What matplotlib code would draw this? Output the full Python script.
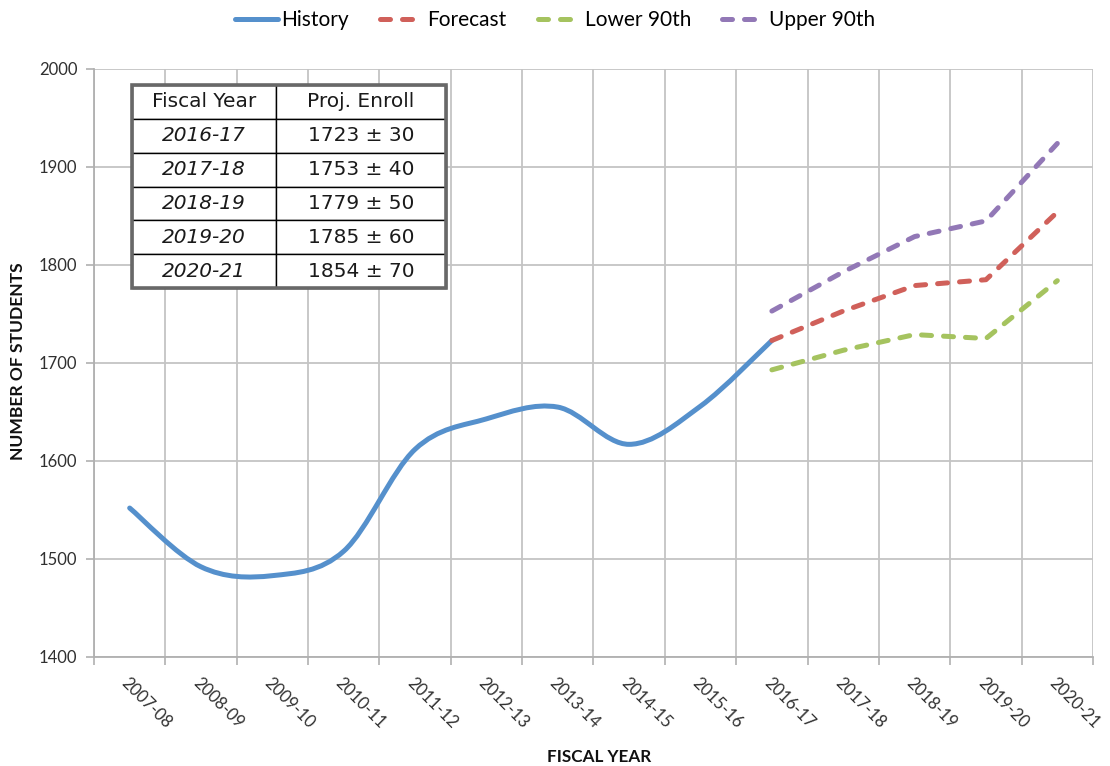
import matplotlib
matplotlib.use("Agg")
import matplotlib.pyplot as plt
from matplotlib.path import Path
from matplotlib.patches import PathPatch, Rectangle
from matplotlib.lines import Line2D
import numpy as np

# Datos
anios = ["2007-08", "2008-09", "2009-10", "2010-11", "2011-12", "2012-13", "2013-14",
         "2014-15", "2015-16", "2016-17", "2017-18", "2018-19", "2019-20", "2020-21"]
historia = [1552, 1492, 1483, 1508, 1612, 1643, 1655, 1617, 1656, 1723]
pronostico = [1723, 1753, 1779, 1785, 1854]
margen = [30, 40, 50, 60, 70]
inferior_90 = [1693, 1713, 1729, 1725, 1784]
superior_90 = [1753, 1793, 1829, 1845, 1924]

AZUL = "#5590cc"
ROJO = "#d0605a"
VERDE = "#a5c35f"
MORADO = "#9278b6"
GRIS_REJILLA = "#c4c4c4"
GUIONES = (0, (2.0, 2.4))

plt.rcParams['font.family'] = ['Lato', 'DejaVu Sans']


def curva_suave(xs, ys):
    # curva tipo "suavizado" de Excel: Bezier cubica por los puntos
    pts = np.column_stack([xs, ys]).astype(float)
    n = len(pts)
    verts = [pts[0]]
    codes = [Path.MOVETO]
    for i in range(n - 1):
        p0 = pts[i - 1] if i > 0 else pts[i]
        p3 = pts[i + 2] if i + 2 < n else pts[i + 1]
        c1 = pts[i] + (pts[i + 1] - p0) / 6
        c2 = pts[i + 1] - (p3 - pts[i]) / 6
        verts += [c1, c2, pts[i + 1]]
        codes += [Path.CURVE4] * 3
    return Path(verts, codes)


fig = plt.figure(figsize=(11.1, 7.66), dpi=100)
ax = fig.add_axes([94 / 1110, 1 - 657 / 766, 999 / 1110, 588 / 766])

x_hist = np.arange(len(historia))
x_pron = np.arange(len(historia) - 1, len(anios))

ancho = 3.6
ax.add_patch(PathPatch(curva_suave(x_hist, historia), fill=False, ec=AZUL, lw=ancho,
                       capstyle='round', joinstyle='round', zorder=3))
for serie, color in [(pronostico, ROJO), (inferior_90, VERDE), (superior_90, MORADO)]:
    ax.plot(x_pron, serie, color=color, lw=ancho, ls=GUIONES,
            dash_capstyle='round', dash_joinstyle='round', zorder=3)

ax.set_xlim(-0.5, len(anios) - 0.5)
ax.set_ylim(1400, 2000)
ax.set_yticks(np.arange(1400, 2001, 100))

ax.set_xticks(np.arange(len(anios)))
ax.set_xticklabels(anios, rotation=-45, ha='left', va='top', rotation_mode='anchor')
ax.set_xticks(np.arange(-0.5, len(anios)), minor=True)
ax.tick_params(axis='x', which='major', length=0, pad=13, labelsize=12, labelcolor='#303030')
ax.tick_params(axis='x', which='minor', length=6, width=1.2, color='#b0b0b0')
ax.tick_params(axis='y', length=6, width=1.2, color='#b0b0b0', pad=6,
               labelsize=12, labelcolor='#303030')

ax.grid(which='minor', axis='x', color=GRIS_REJILLA, lw=1.3)
ax.grid(which='major', axis='y', color=GRIS_REJILLA, lw=1.3)
ax.set_axisbelow(True)
for lado in ['top', 'right']:
    ax.spines[lado].set_visible(False)
for lado in ['left', 'bottom']:
    ax.spines[lado].set_color('#b0b0b0')
    ax.spines[lado].set_linewidth(1.3)

fig.text(599 / 1110, 1 - 757 / 766, "FISCAL YEAR", ha='center', va='center',
         fontsize=12.3, fontweight='bold', color='#111111')
fig.text(18 / 1110, 1 - 361 / 766, "NUMBER OF STUDENTS", ha='center', va='center',
         rotation=90, fontsize=12.6, fontweight='bold', color='#111111')

# Tabla de proyecciones
filas = [[a, f"{v} ± {m}"] for a, v, m in zip(anios[9:], pronostico, margen)]
caja = [(131.7 - 94) / 999, 1 - (288 - 69) / 588, (446 - 131.7) / 999, (288 - 85) / 588]
tabla = ax.table(cellText=filas, colLabels=["Fiscal Year", "Proj. Enroll"],
                 colWidths=[0.459, 0.541], cellLoc='center', bbox=caja)
tabla.auto_set_font_size(False)
tabla.set_fontsize(14.5)
tabla.set_zorder(5)
for (r, c), celda in tabla.get_celld().items():
    celda.set_edgecolor('black')
    celda.set_linewidth(1.0)
    celda.set_facecolor('white')
    celda.get_text().set_fontfamily('DejaVu Sans')
    celda.get_text().set_color('#1a1a1a')
    if r > 0 and c == 0:
        celda.get_text().set_fontstyle('italic')
ax.add_patch(Rectangle((caja[0], caja[1]), caja[2], caja[3], transform=ax.transAxes,
                       fill=False, ec='#686868', lw=2.6, zorder=6, clip_on=False))

manijas = [
    Line2D([], [], color=AZUL, lw=ancho, solid_capstyle='round'),
    Line2D([], [], color=ROJO, lw=ancho, ls=GUIONES, dash_capstyle='round'),
    Line2D([], [], color=VERDE, lw=ancho, ls=GUIONES, dash_capstyle='round'),
    Line2D([], [], color=MORADO, lw=ancho, ls=GUIONES, dash_capstyle='round'),
]
fig.legend(manijas, ["History", "Forecast", "Lower 90th", "Upper 90th"],
           loc='center', bbox_to_anchor=(0.5, 1 - 20 / 766), ncol=4, frameon=False,
           fontsize=15, handlelength=2.1, handletextpad=0.15, columnspacing=1.5)

fig.savefig("out.png", dpi=100)
